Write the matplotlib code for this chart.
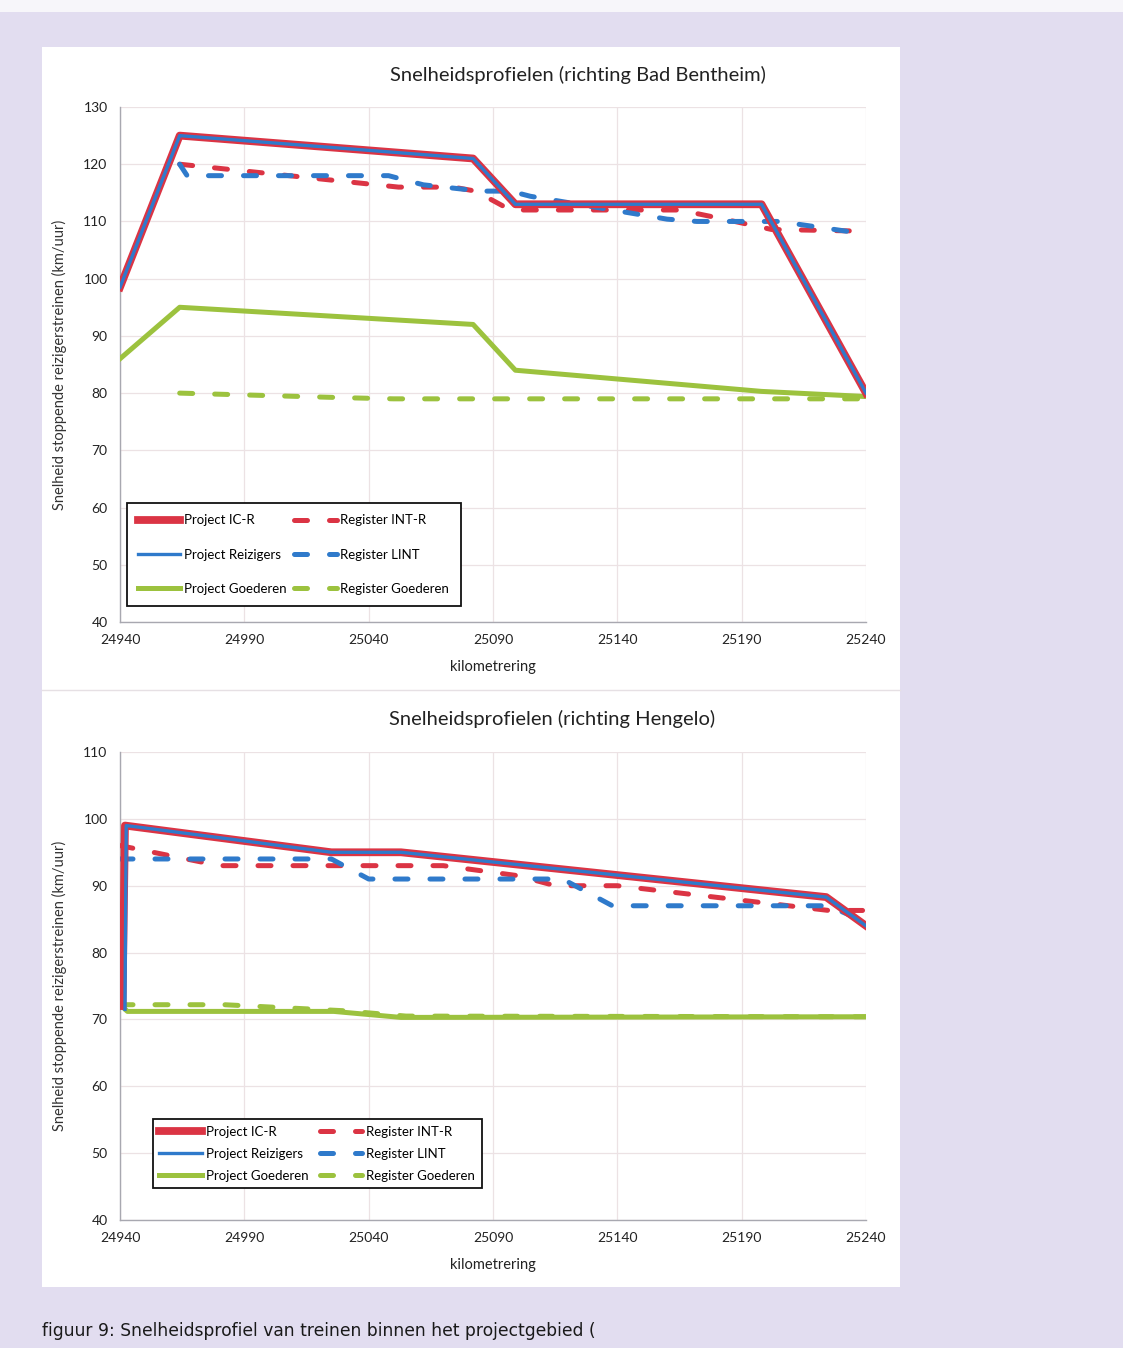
import matplotlib
matplotlib.use("Agg")
import matplotlib.pyplot as plt
from matplotlib.patches import Rectangle
from matplotlib.lines import Line2D

plt.rcParams['font.family'] = ['Lato', 'DejaVu Sans']

# richting Bad Bentheim
bb_km_proj = [24940, 24964, 25082, 25099, 25198, 25240]
bb_icr = [98.5, 125, 121, 113, 113, 80]
bb_reiz = [98.5, 125, 121, 113, 113, 80]
bb_goed = [86, 95, 92, 84, 80.3, 79.4]

bb_km_intr = [24964, 25052, 25074, 25083, 25097, 25165, 25184, 25202, 25240]
bb_intr = [120, 116, 116, 115.3, 112, 112, 110.3, 108.6, 108.3]

bb_km_lint = [24964, 24967, 25048, 25062, 25085, 25097, 25105, 25160, 25172, 25205, 25240]
bb_lint = [120, 118, 118, 116.4, 115.3, 115.3, 114.4, 110.4, 110, 110, 107.8]

bb_km_rgoed = [24964, 25030, 25050, 25240]
bb_rgoed = [80, 79.2, 79, 79]

# richting Hengelo
he_km_icr = [24941, 24942, 25025, 25053, 25224, 25240]
he_icr = [72, 99, 95, 95, 88.3, 84]
he_km_reiz = [24942, 24942.5, 25025, 25053, 25224, 25240]
he_reiz = [71.5, 99, 95, 95, 88.3, 84]

he_km_goed = [24940, 24943, 25026, 25053, 25240]
he_goed = [72.2, 71.2, 71.2, 70.3, 70.4]

he_km_intr = [24940, 24980, 25070, 25100, 25115, 25140, 25225, 25240]
he_intr = [96, 93, 93, 91.5, 90, 90, 86.3, 86.3]

he_km_lint = [24940, 25025, 25040, 25118, 25138, 25225, 25240]
he_lint = [94, 94, 91, 91, 87, 87, 84.5]

he_km_rgoed = [24940, 24982, 25030, 25055, 25240]
he_rgoed = [72.2, 72.2, 71.3, 70.5, 70.4]

x_ticks = list(range(24940, 25241, 50))

RED = '#db3444'
BLUE = '#2f7acb'
GREEN = '#9cc23e'
PAGE = '#e2ddf0'

W, H = 1123, 1348
fig = plt.figure(figsize=(W / 100, H / 100), dpi=100)
fig.patch.set_facecolor(PAGE)


def fx(px):
    return px / W


def fy(py):
    return 1 - py / H


# paper edge on top and the white chart panel
fig.patches.append(Rectangle((0, fy(12)), 1, 12 / H, transform=fig.transFigure,
                             facecolor='#f7f6fa', edgecolor='none', zorder=-2))
fig.patches.append(Rectangle((fx(42), fy(1287)), fx(858), (1287 - 47) / H,
                             transform=fig.transFigure, facecolor='white',
                             edgecolor='none', zorder=-2))
fig.lines.append(Line2D([fx(42), fx(900)], [fy(690), fy(690)], transform=fig.transFigure,
                        color='#e6e0e4', lw=1, zorder=-1))


def draw(ax, series, ylim, yticks, legend_kw):
    for km, v, kw in series:
        ax.plot(km, v, **kw)
    ax.set_xlim(24940, 25240)
    ax.set_ylim(*ylim)
    ax.set_xticks(x_ticks)
    ax.set_yticks(yticks)
    ax.grid(True, color='#ece2e4', lw=0.9)
    ax.set_axisbelow(True)
    for s in ['top', 'right']:
        ax.spines[s].set_visible(False)
    for s in ['left', 'bottom']:
        ax.spines[s].set_color('#a8a8b0')
        ax.spines[s].set_linewidth(1)
    ax.tick_params(length=0, labelsize=10, colors='#222222')
    ax.tick_params(axis='x', pad=9)
    ax.tick_params(axis='y', pad=9)
    ax.set_xlabel('kilometrering', fontsize=10.5, color='#222222', labelpad=10)
    ax.set_ylabel('Snelheid stoppende reizigerstreinen (km/uur)', fontsize=10.5,
                  color='#333333', labelpad=12)
    order = ['Project IC-R', 'Project Reizigers', 'Project Goederen',
             'Register INT-R', 'Register LINT', 'Register Goederen']
    hd = {l.get_label(): l for l in ax.get_lines()}
    leg = ax.legend([hd[o] for o in order], order, ncol=2, loc='lower left',
                    fancybox=False, framealpha=1, edgecolor='#111111',
                    handletextpad=0.3, borderaxespad=0, handlelength=3.2,
                    fontsize=9.5, **legend_kw)
    leg.get_frame().set_linewidth(1.3)
    return ax


def series_list(d):
    dash = dict(lw=3.6, dashes=(2.6, 4.4), dash_capstyle='round')
    return [
        (d['rgoed_km'], d['rgoed'], dict(color=GREEN, label='Register Goederen', zorder=2, **dash)),
        (d['goed_km'], d['goed'], dict(color=GREEN, lw=3.6, label='Project Goederen', zorder=3)),
        (d['intr_km'], d['intr'], dict(color=RED, label='Register INT-R', zorder=4, **dash)),
        (d['lint_km'], d['lint'], dict(color=BLUE, label='Register LINT', zorder=5, **dash)),
        (d['icr_km'], d['icr'], dict(color=RED, lw=5.6, label='Project IC-R', zorder=6)),
        (d['reiz_km'], d['reiz'], dict(color=BLUE, lw=2.4, label='Project Reizigers', zorder=7)),
    ]


top = dict(rgoed_km=bb_km_rgoed, rgoed=bb_rgoed, goed_km=bb_km_proj, goed=bb_goed,
           intr_km=bb_km_intr, intr=bb_intr, lint_km=bb_km_lint, lint=bb_lint,
           icr_km=bb_km_proj, icr=bb_icr, reiz_km=bb_km_proj, reiz=bb_reiz)
bot = dict(rgoed_km=he_km_rgoed, rgoed=he_rgoed, goed_km=he_km_goed, goed=he_goed,
           intr_km=he_km_intr, intr=he_intr, lint_km=he_km_lint, lint=he_lint,
           icr_km=he_km_icr, icr=he_icr, reiz_km=he_km_reiz, reiz=he_reiz)

ax1 = fig.add_axes([fx(120), fy(622), fx(746), (622 - 107) / H], zorder=2)
ax1.patch.set_alpha(0)
draw(ax1, series_list(top), (40, 130), range(40, 131, 10),
     dict(bbox_to_anchor=(0.0094, 0.031), labelspacing=1.68, borderpad=0.85,
          columnspacing=0.55))

ax2 = fig.add_axes([fx(120), fy(1220), fx(746), (1220 - 752) / H], zorder=2)
ax2.patch.set_alpha(0)
draw(ax2, series_list(bot), (40, 110), range(40, 111, 10),
     dict(bbox_to_anchor=(0.044, 0.068), labelspacing=0.75, borderpad=0.5,
          columnspacing=0.9))

fig.text(fx(578), fy(75), 'Snelheidsprofielen (richting Bad Bentheim)', ha='center',
         va='center', fontsize=14.5, color='#222222')
fig.text(fx(552), fy(719), 'Snelheidsprofielen (richting Hengelo)', ha='center',
         va='center', fontsize=14.5, color='#222222')

fig.text(fx(42), fy(1331), 'figuur 9: Snelheidsprofiel van treinen binnen het projectgebied (',
         ha='left', va='center', fontsize=12.3, color='#1a1a1a',
         family=['DejaVu Sans'])

fig.savefig('out.png', dpi=100, facecolor=fig.get_facecolor())
